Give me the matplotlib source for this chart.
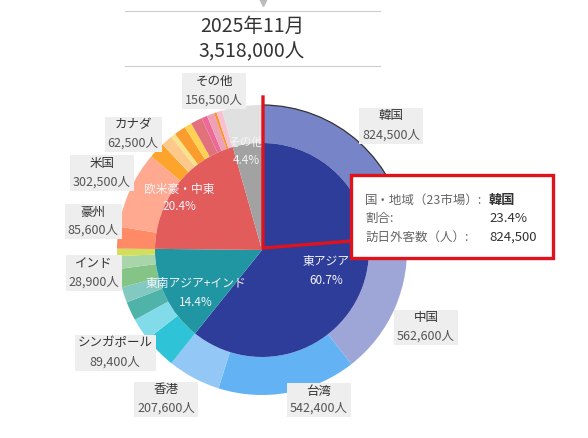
import matplotlib.pyplot as plt
from matplotlib.patches import Arc, Rectangle

plt.rcParams['font.family'] = ['Noto Sans CJK JP', 'DejaVu Sans']

# --- data -------------------------------------------------------------
month_title = "2025年11月"
total_visitors = 3518000

# inner pie: region share (%)
regions = ["東アジア", "東南アジア+インド", "欧米豪・中東", "その他"]
region_share = [60.7, 14.4, 20.4, 4.4]

# outer ring: 23 markets + others (visitors)
markets = ["韓国", "中国", "台湾", "香港",
           "タイ", "シンガポール", "マレーシア", "インドネシア", "フィリピン", "ベトナム", "インド",
           "豪州", "米国", "カナダ", "メキシコ", "英国", "フランス", "ドイツ", "イタリア",
           "スペイン", "ロシア", "北欧地域", "中東地域",
           "その他"]
visitors = [824500, 562600, 542400, 207600,
            131000, 89400, 74000, 61000, 72000, 50300, 28900,
            85600, 302500, 62500, 45000, 19000, 45000, 29000, 45000,
            23000, 29000, 10000, 22100,
            156500]

# tooltip (selected market)
tip_fields = ["国・地域（23市場）:", "割合:", "訪日外客数（人）:"]
tip_values = ["韓国", "23.4%", "824,500"]

# --- styles -----------------------------------------------------------
region_colors = ["#2e3d9a", "#2196a3", "#e15c5b", "#a2a2a2"]
market_colors = ["#7884c8", "#9ea6d8", "#63b3f4", "#93c8f6",
                 "#2ec3d6", "#82dbe8", "#4fb3aa", "#82c9c2", "#84c587", "#a8d5a9", "#d2df5a",
                 "#ff8a66", "#ffaa90", "#fca42c", "#fdc98a", "#f6e38a", "#fb9d2e", "#fdd252",
                 "#e1727c", "#ec6a98", "#eea0b4", "#f7962a", "#f8c0d0",
                 "#e0e0e0"]

# label boxes: market -> (x, y of name, y of value) in pixels
label_pos = {
    "その他": (214, 81, 100),
    "韓国": (391, 116, 135),
    "中国": (426, 318, 336),
    "台湾": (319, 391, 408),
    "香港": (166, 390, 408),
    "シンガポール": (115, 343, 362),
    "インド": (94, 263, 282),
    "豪州": (93, 212, 230),
    "米国": (102, 163, 182),
    "カナダ": (133, 125, 143),
}
inner_label_pos = [(326, 262, 280), (196, 283, 302), (179, 189, 207), (246, 142, 161)]

W, H = 588, 438
cx, cy = 262, 250
r_out, r_in = 145, 107


def Y(y):
    return H - y


fig = plt.figure(figsize=(W / 100, H / 100), dpi=100)
ax = fig.add_axes([0, 0, 1, 1])

outer, _ = ax.pie(visitors, colors=market_colors, startangle=90, counterclock=False,
                  center=(cx, Y(cy)), radius=r_out,
                  wedgeprops=dict(width=r_out - r_in, linewidth=0))
inner, _ = ax.pie(region_share, colors=region_colors, startangle=90, counterclock=False,
                  center=(cx, Y(cy)), radius=r_in,
                  wedgeprops=dict(linewidth=0))

# outline on the selected market's outer edge
k_theta1 = 90 - 360 * visitors[0] / sum(visitors)
ax.add_patch(Arc((cx, Y(cy)), 2 * r_out, 2 * r_out, theta1=k_theta1, theta2=90,
                 color="#333333", lw=0.9, zorder=3))

ax.set_xlim(0, W)
ax.set_ylim(0, H)
ax.set_aspect('equal')
ax.axis('off')

# title block
ax.plot([125, 380], [Y(11), Y(11)], color="#cccccc", lw=0.8)
ax.plot([125, 380], [Y(66), Y(66)], color="#cccccc", lw=0.8)
ax.plot([263], [Y(2)], marker='v', color="#bbbbbb", ms=6)
ax.text(252, Y(26), month_title, ha='center', va='center', fontsize=14, color="#333333")
ax.text(252, Y(52), f"{total_visitors:,}人", ha='center', va='center', fontsize=14, color="#333333")

# market labels (text first, grey box sized to both lines afterwards)
renderer = fig.canvas.get_renderer()
inv = ax.transData.inverted()
for name, (x, yn, yv) in label_pos.items():
    val = f"{visitors[markets.index(name)]:,}人"
    t1 = ax.text(x, Y(yn), name, ha='center', va='center', fontsize=9, color="#333333", zorder=4)
    t2 = ax.text(x, Y(yv), val, ha='center', va='center', fontsize=9, color="#555555", zorder=4)
    b1 = t1.get_window_extent(renderer)
    b2 = t2.get_window_extent(renderer)
    x0 = min(b1.x0, b2.x0) - 3
    x1 = max(b1.x1, b2.x1) + 3
    y0 = min(b1.y0, b2.y0) - 2
    y1 = max(b1.y1, b2.y1) + 2
    (dx0, dy0), (dx1, dy1) = inv.transform([(x0, y0), (x1, y1)])
    ax.add_patch(Rectangle((dx0, dy0), dx1 - dx0, dy1 - dy0, facecolor="#eeeeee",
                           edgecolor='none', zorder=3.5))

# inner labels
for i, (name, share) in enumerate(zip(regions, region_share)):
    x, yn, yv = inner_label_pos[i]
    t1 = ax.text(x, Y(yn), name, ha='center', va='center', fontsize=8.5, color="#f4f4f8")
    t2 = ax.text(x, Y(yv), f"{share}%", ha='center', va='center', fontsize=8.5, color="#f4f4f8")
    t1.set_clip_path(inner[i])
    t2.set_clip_path(inner[i])

# red annotation
red = "#e0121b"
ax.plot([263, 263, 352], [Y(97), Y(248), Y(241)], color=red, lw=2.4,
        solid_joinstyle='miter', zorder=5)
ax.add_patch(Rectangle((351, Y(258)), 202, 83, facecolor='white', edgecolor=red,
                       lw=2.4, zorder=6))
for i, (f, v) in enumerate(zip(tip_fields, tip_values)):
    yy = Y(200 + 18.5 * i)
    ax.text(365, yy, f, ha='left', va='center', fontsize=9, color="#666666", zorder=7)
    ax.text(489, yy, v, ha='left', va='center', fontsize=9.5, color="#333333",
            fontweight='bold' if i == 0 else 'normal', zorder=7)

fig.savefig("out.png", dpi=100)
